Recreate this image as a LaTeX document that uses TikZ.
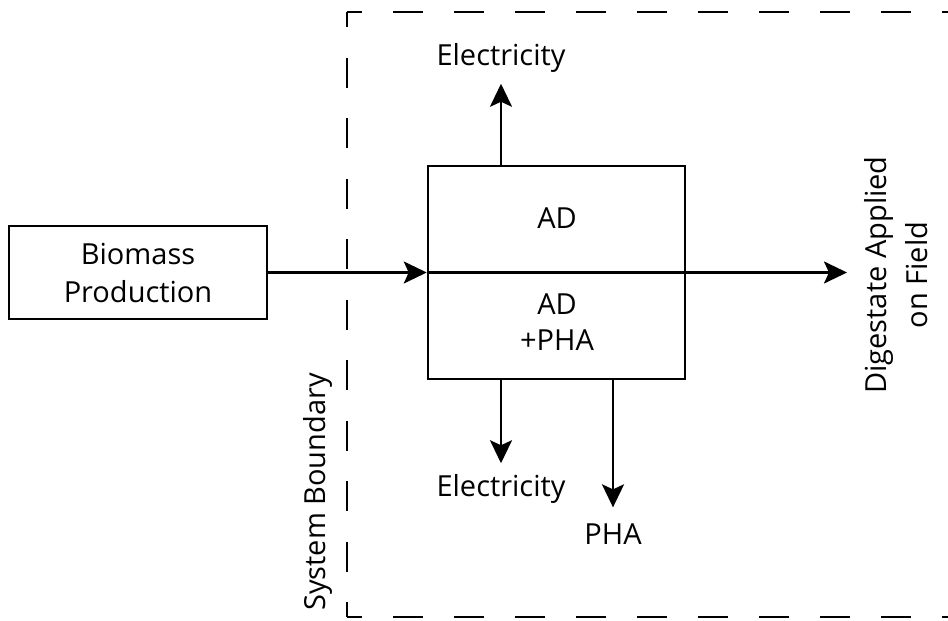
\documentclass[tikz,border=0pt]{standalone}
\usepackage{fontspec}
\setmainfont{Open Sans}
\usetikzlibrary{arrows.meta}
\begin{document}
\begin{tikzpicture}[x=1pt,y=-1pt,line width=2.5pt,
  arr/.style={-{Stealth[length=23pt,width=22pt,inset=5pt]}},
  box/.style={draw,line width=2.5pt,inner sep=0pt,font=\fontsize{29}{38}\selectfont,align=center},
  lbl/.style={font=\fontsize{29}{36}\selectfont,align=center,inner xsep=0pt},
  bound/.style={line width=2.4pt,dash pattern=on 30pt off 31pt,dash phase=15pt}]
\useasboundingbox (0,0) rectangle (948,621);
% system boundary
\coordinate (tl) at (347,12);
\coordinate (bl) at (347,617);
\coordinate (tr) at (948,12);
\coordinate (br) at (948,617);
\draw[bound] (tl) -- (tr);
\draw[bound,dash pattern=on 30pt off 30.5pt] (tl) -- (bl);
\draw[bound] (bl) -- (br);
\node[lbl,rotate=90,inner ysep=0pt] (sb) at (318,492) {System Boundary};
% boxes
\node[box,minimum width=258pt,minimum height=93pt] (bio) at (138,272.5) {Biomass\\Production};
\node[box,minimum width=257pt,minimum height=213pt] (ad) at (556.5,272.5) {};
\node[lbl,inner ysep=0pt] (adtop) at (557,218) {AD};
\node[lbl,inner ysep=0pt] (adbot) at (557,322) {AD\\+PHA};
% outputs
\node[lbl,inner ysep=10pt] (e1) at (501,58) {Electricity};
\node[lbl,inner ysep=10pt] (e2) at (501,489) {Electricity};
\node[lbl,inner ysep=15pt] (pha) at (613,534) {PHA};
\node[lbl,rotate=90,inner ysep=0pt,font=\fontsize{29}{41}\selectfont] (dig) at (896,275) {Digestate Applied\\on Field};
\coordinate (digtip) at (847,272.5);
% connectors
\draw[arr] (bio.east) -- (ad.west);
\draw (ad.west) -- (ad.east);
\draw[arr] (ad.east) -- (digtip);
\draw[arr] (ad.north -| e1) -- (e1.south);
\draw[arr] (ad.south -| e2) -- (e2.north);
\draw[arr] (ad.south -| pha) -- (pha.north);
\end{tikzpicture}
\end{document}
